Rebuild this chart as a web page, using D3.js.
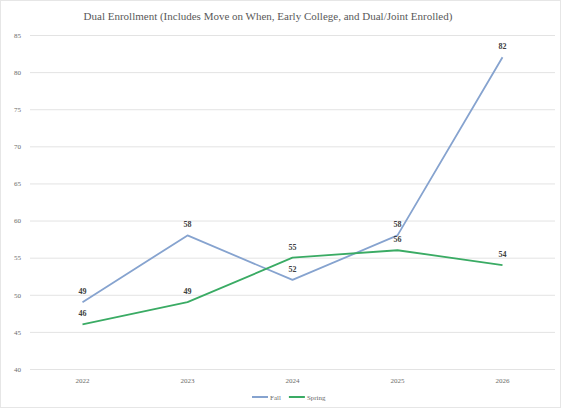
<!DOCTYPE html>
<html>
<head>
<meta charset="utf-8">
<script src="https://cdn.jsdelivr.net/npm/d3@7/dist/d3.min.js"></script>
<style>
  html, body { margin: 0; padding: 0; background: #fff; }
  svg { display: block; }
</style>
</head>
<body>
<svg id="chart" width="561" height="408"></svg>
<script>
const categories = ["2022", "2023", "2024", "2025", "2026"];
const fallValues = [49, 58, 52, 58, 82];
const springValues = [46, 49, 55, 56, 54];
const yTicks = [40, 45, 50, 55, 60, 65, 70, 75, 80, 85];
const seriesNames = ["Fall", "Spring"];
const titleText = "Dual Enrollment (Includes Move on When, Early College, and Dual/Joint Enrolled)";

const W = 561, H = 408;
const margin = { left: 30, right: 6, top: 35, bottom: 39 };
const svg = d3.select("#chart");
const font = "'Liberation Serif', 'Times New Roman', serif";

svg.append("rect").attr("x", 0.5).attr("y", 0.5).attr("width", W - 1).attr("height", H - 1)
  .attr("fill", "#fff").attr("stroke", "#e6e6e6");

const x = d3.scaleBand().domain(categories).range([margin.left, W - margin.right]);
const y = d3.scaleLinear().domain([40, 85]).range([H - margin.bottom, margin.top]);

// gridlines
const yAxis = d3.axisLeft(y).tickValues(yTicks).tickSize(-(W - margin.right - margin.left)).tickPadding(9);
const gy = svg.append("g").attr("transform", `translate(${margin.left},0)`).call(yAxis);
gy.select(".domain").remove();
gy.selectAll(".tick line").attr("stroke", "#e3e3e3").attr("stroke-width", 1);
gy.selectAll(".tick text").attr("fill", "#6b6b6b").style("font-family", font).style("font-size", "7px");

const xAxis = d3.axisBottom(x).tickSize(0).tickPadding(9);
const gx = svg.append("g").attr("transform", `translate(0,${H - margin.bottom})`).call(xAxis);
gx.select(".domain").remove();
gx.selectAll(".tick text").attr("fill", "#6b6b6b").style("font-family", font).style("font-size", "7px");

// title
svg.append("text").attr("x", 268).attr("y", 20).attr("text-anchor", "middle")
  .attr("fill", "#595959").style("font-family", font).style("font-size", "11px").text(titleText);

const colors = { Fall: "#86a3cf", Spring: "#3aab64" };
const series = [
  { name: "Fall", values: fallValues },
  { name: "Spring", values: springValues }
];

const line = d3.line().x((d, i) => x(categories[i]) + x.bandwidth() / 2).y(d => y(d));

series.forEach(s => {
  svg.append("path").datum(s.values).attr("d", line)
    .attr("fill", "none").attr("stroke", colors[s.name]).attr("stroke-width", 1.8)
    .attr("stroke-linejoin", "round");
});

series.forEach(s => {
  svg.append("g").selectAll("text").data(s.values).join("text")
    .attr("x", (d, i) => x(categories[i]) + x.bandwidth() / 2)
    .attr("y", d => y(d) - 8)
    .attr("text-anchor", "middle")
    .attr("fill", "#404040").style("font-family", font).style("font-size", "8px").style("font-weight", "bold")
    .text(d => d);
});

// legend
const legend = svg.append("g").attr("transform", "translate(252,397)");
let lx = 0;
seriesNames.forEach(n => {
  legend.append("line").attr("x1", lx).attr("x2", lx + 16).attr("y1", 0).attr("y2", 0)
    .attr("stroke", colors[n]).attr("stroke-width", 2);
  const t = legend.append("text").attr("x", lx + 18).attr("y", 2.5).attr("fill", "#6b6b6b")
    .style("font-family", font).style("font-size", "7px").text(n);
  lx += 18 + t.node().getComputedTextLength() + 8;
});
</script>
</body>
</html>
